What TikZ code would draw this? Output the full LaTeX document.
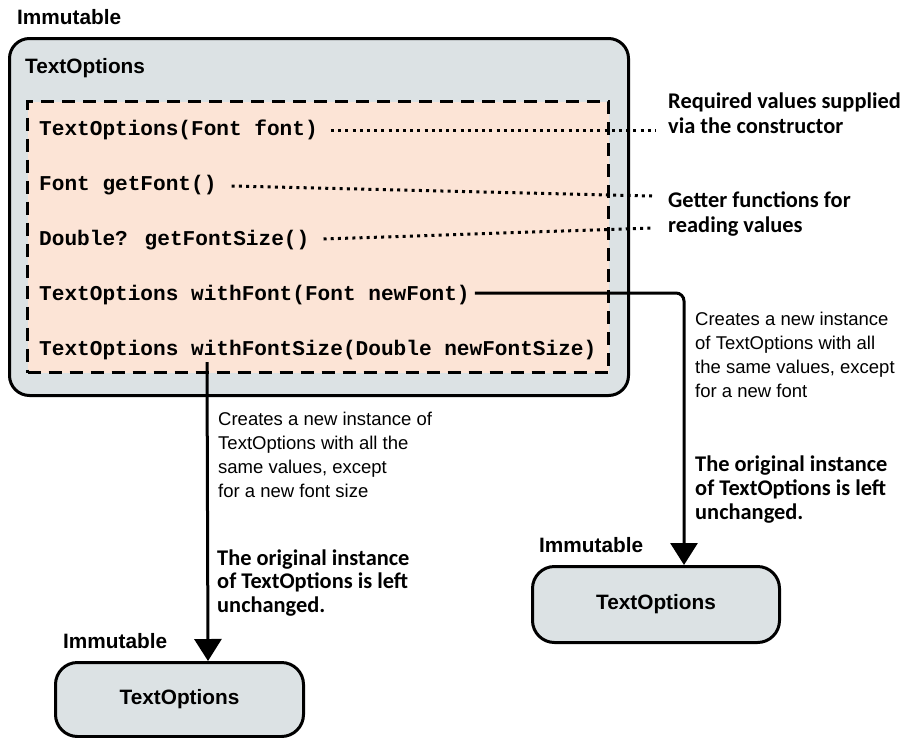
\documentclass[tikz,border=0pt]{standalone}
\usepackage{fontspec}
\setmainfont{Liberation Sans}
\newfontfamily\codefont{Liberation Mono}
\newfontfamily\notefont{Carlito}
\usetikzlibrary{arrows.meta,calc}

\definecolor{boxgray}{RGB}{220,226,228}
\definecolor{peach}{RGB}{252,228,214}

\tikzset{
  outerbox/.style={draw=black, fill=boxgray, line width=3pt, rounded corners=20pt,
    inner sep=0pt, anchor=north west},
  membox/.style={draw=black, fill=peach, line width=3pt, dash pattern=on 13pt off 8pt,
    inner sep=0pt, anchor=north west},
  smallbox/.style={draw=black, fill=boxgray, line width=3pt, rounded corners=22pt,
    inner sep=0pt, anchor=north west,
    font=\fontsize{20.5}{24}\selectfont\bfseries},
  tag/.style={anchor=base west, inner sep=0pt, font=\fontsize{20.8}{24}\selectfont\bfseries},
  code/.style={anchor=base west, inner sep=0pt, font=\fontsize{21.1}{24}\selectfont\codefont\bfseries},
  callout/.style={anchor=base west, inner sep=0pt, font=\fontsize{22.4}{25}\selectfont\notefont\bfseries},
  desc/.style={anchor=base west, inner sep=0pt, font=\fontsize{18.5}{24}\selectfont},
  dotline/.style={line width=3pt, dash pattern=on 3pt off 4.2pt},
  arr/.style={line width=3pt, -{Triangle[length=22pt,width=27pt]}},
}

\newcommand{\lines}[1]{\begin{tabular}[t]{@{}l@{}}#1\end{tabular}}

\begin{document}
\begin{tikzpicture}[x=1pt,y=-1pt]
\useasboundingbox (0,0) rectangle (905,737);

% the class and its members
\node[tag] (imm1) at (17,24) {Immutable};
\node[outerbox, minimum width=619pt, minimum height=357pt] (outer) at (8,37) {};
\node[tag] (title) at (25,73) {TextOptions};
\node[membox, minimum width=581pt, minimum height=271pt] (members) at (26,100) {};

\node[code] (c1) at (39,135) {TextOptions(Font font)};
\node[code] (c2) at (39,190) {Font getFont()};
\node[code] (c3) at (39,245) {Double? getFontSize()};
\node[code] (c4) at (39,300) {TextOptions withFont(Font newFont)};
\node[code] (c5) at (39,355) {TextOptions withFontSize(Double newFontSize)};

% callouts on the right
\node[callout] (req) at (668,108) {\lines{Required values supplied\\via the constructor}};
\node[callout] (getter) at (668,207) {\lines{Getter functions for\\reading values}};

\coordinate (reqend) at (655,130);
\coordinate (getend1) at (652,196);
\coordinate (getend2) at (652,228);

\draw[dotline] ($(c1.base east)+(13,-5)$) -- (reqend);
\draw[dotline] ($(c2.base east)+(15,-4)$) -- (getend1);
\draw[dotline] ($(c3.base east)+(14,-6)$) -- (getend2);

% the two new instances
\node[smallbox, minimum width=247pt, minimum height=76pt] (copy1) at (531,565) {};
\node[smallbox, minimum width=248pt, minimum height=74pt] (copy2) at (54,661) {};
\node[font=\fontsize{20.8}{24}\selectfont\bfseries] (copy1label) at (copy1.center) {TextOptions};
\node[font=\fontsize{20.8}{24}\selectfont\bfseries] (copy2label) at (copy2.center) {TextOptions};
\node[tag] (imm2) at (539,552) {Immutable};
\node[tag] (imm3) at (63,648) {Immutable};

% connectors to the new instances
\draw[arr, rounded corners=8pt] ($(c4.base east)+(5,-7)$) -| ([xshift=28pt]copy1.north);
\draw[arr] (207,362) -- ([xshift=28.5pt]copy2.north);

% notes beside the connectors
\node[desc] (d1) at (695,325) {\lines{Creates a new instance\\of TextOptions with all\\the same values, except\\for a new font}};
\node[callout, font=\fontsize{22.4}{24}\selectfont\notefont\bfseries] (u1) at (695,471) {\lines{The original instance\\of TextOptions is left\\unchanged.}};
\node[desc] (d2) at (218,425) {\lines{Creates a new instance of\\TextOptions with all the\\same values, except\\for a new font size}};
\node[callout, font=\fontsize{22.4}{23.5}\selectfont\notefont\bfseries] (u2) at (217,565) {\lines{The original instance\\of TextOptions is left\\unchanged.}};
\end{tikzpicture}
\end{document}
